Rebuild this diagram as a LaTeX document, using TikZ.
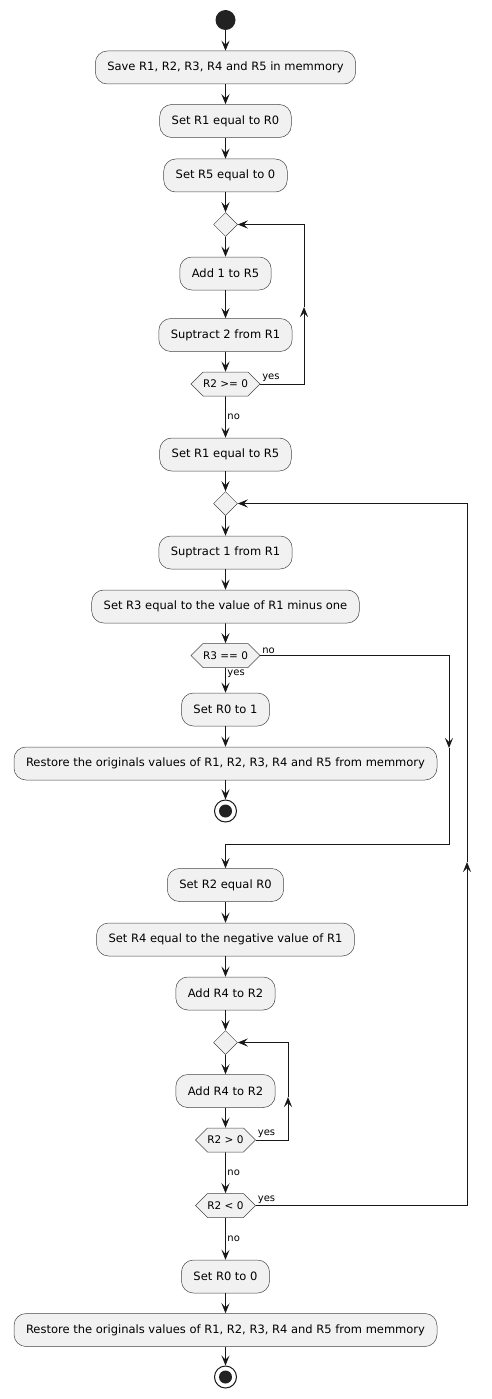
\documentclass[tikz,border=0pt]{standalone}
\usepackage{fontspec}
\setmainfont{DejaVu Sans}
\usetikzlibrary{arrows.meta,shapes.geometric,shapes.symbols}
\definecolor{boxgray}{HTML}{F1F1F1}
\definecolor{ink}{HTML}{181818}
\definecolor{dotgray}{HTML}{222222}
\begin{document}
\begin{tikzpicture}[x=1pt,y=-1pt,
   >={Stealth[length=10pt,width=8pt,inset=4pt]},
   action/.style={draw=ink!80,fill=boxgray,line width=0.5pt,rounded corners=12pt,
     minimum height=33pt,inner xsep=12pt,font=\fontsize{11.5}{13}\selectfont},
   ifbox/.style={draw=ink!80,fill=boxgray,line width=0.5pt,shape=signal,
     signal to=west and east,signal pointer angle=90,minimum height=24pt,
     inner xsep=0pt,inner ysep=0pt,font=\fontsize{10.5}{12}\selectfont},
   merge/.style={draw=ink!80,fill=boxgray,line width=0.5pt,diamond,minimum size=24pt,inner sep=0pt},
   startdot/.style={circle,fill=dotgray,minimum size=20pt,inner sep=0pt},
   stopdot/.style={circle,draw=ink,line width=1pt,fill=white,minimum size=22pt,inner sep=0pt,
     path picture={\fill[dotgray] (path picture bounding box.center) circle (6.5pt);}},
   flow/.style={->,draw=ink,line width=0.9pt},
   lbl/.style={font=\fontsize{10}{11}\selectfont,inner sep=1.5pt}]
\useasboundingbox (0,0) rectangle (492,1399);
\node[startdot] (start) at (225.5,20) {};
\node[action] (save) at (225.5,67.5) {Save R1, R2, R3, R4 and R5 in memmory};
\node[action] (setA) at (225.5,121) {Set R1 equal to R0};
\node[action] (setB) at (225.5,175.5) {Set R5 equal to 0};
\node[merge] (dA) at (225.5,224.5) {};
\node[action] (addA) at (225.5,273.5) {Add 1 to R5};
\node[action] (subA) at (225.5,335) {Suptract 2 from R1};
\node[ifbox] (ifA) at (225.5,384) {R2 >= 0};
\node[action] (setC) at (225.5,454.5) {Set R1 equal to R5};
\node[merge] (dB) at (225.5,503.5) {};
\node[action] (subB) at (225.5,552.5) {Suptract 1 from R1};
\node[action] (setD) at (225.5,606.5) {Set R3 equal to the value of R1 minus one};
\node[ifbox] (ifB) at (225.5,655.5) {R3 == 0};
\node[action] (setE) at (225.5,709.5) {Set R0 to 1};
\node[action] (restA) at (225.5,763.5) {Restore the originals values of R1, R2, R3, R4 and R5 from memmory};
\node[stopdot] (stopA) at (225.5,811) {};
\node[action] (setF) at (225.5,885) {Set R2 equal R0};
\node[action] (setG) at (225.5,939.5) {Set R4 equal to the negative value of R1};
\node[action] (addB) at (225.5,993.5) {Add R4 to R2};
\node[merge] (dC) at (225.5,1042.5) {};
\node[action] (addC) at (225.5,1091) {Add R4 to R2};
\node[ifbox] (ifC) at (225.5,1140) {R2 > 0};
\node[ifbox] (ifD) at (225.5,1205.5) {R2 < 0};
\node[action] (setH) at (225.5,1276.5) {Set R0 to 0};
\node[action] (restB) at (225.5,1330) {Restore the originals values of R1, R2, R3, R4 and R5 from memmory};
\node[stopdot] (stopB) at (225.5,1377) {};
\coordinate (upA) at (304,307);
\coordinate (noA) at (449,748);
\coordinate (turnA) at (225.5,844);
\coordinate (upB) at (467,862);
\coordinate (upC) at (288,1097);
\draw[flow] (start) -- (save);
\draw[flow] (save) -- (setA);
\draw[flow] (setA) -- (setB);
\draw[flow] (setB) -- (dA);
\draw[flow] (dA) -- (addA);
\draw[flow] (addA) -- (subA);
\draw[flow] (subA) -- (ifA);
\draw[flow] (ifA.east) -| node[lbl,pos=0,anchor=south west] {yes} (upA);
\draw[flow] (upA) |- (dA.east);
\draw[flow] (ifA) -- node[lbl,right] {no} (setC);
\draw[flow] (setC) -- (dB);
\draw[flow] (dB) -- (subB);
\draw[flow] (subB) -- (setD);
\draw[flow] (setD) -- (ifB);
\draw[flow] (ifB) -- node[lbl,pos=0,anchor=north west] {yes} (setE);
\draw[flow] (setE) -- (restA);
\draw[flow] (restA) -- (stopA);
\draw[flow] (ifB.east) -| node[lbl,pos=0,anchor=south west] {no} (noA);
\draw[flow] (noA) |- (turnA) -- (setF);
\draw[flow] (setF) -- (setG);
\draw[flow] (setG) -- (addB);
\draw[flow] (addB) -- (dC);
\draw[flow] (dC) -- (addC);
\draw[flow] (addC) -- (ifC);
\draw[flow] (ifC.east) -| node[lbl,pos=0,anchor=south west] {yes} (upC);
\draw[flow] (upC) |- (dC.east);
\draw[flow] (ifC) -- node[lbl,right] {no} (ifD);
\draw[flow] (ifD.east) -| node[lbl,pos=0,anchor=south west] {yes} (upB);
\draw[flow] (upB) |- (dB.east);
\draw[flow] (ifD) -- node[lbl,right] {no} (setH);
\draw[flow] (setH) -- (restB);
\draw[flow] (restB) -- (stopB);
\end{tikzpicture}
\end{document}
